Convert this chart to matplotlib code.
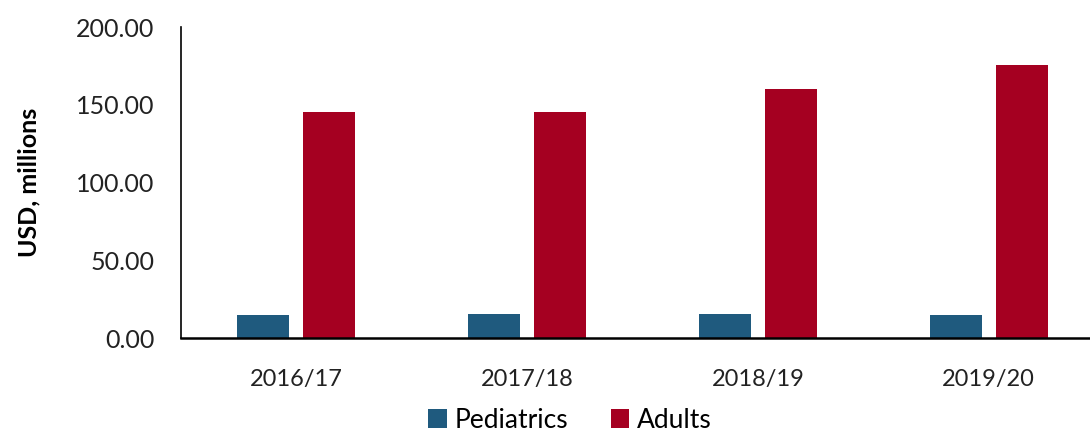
import matplotlib
matplotlib.use('Agg')
import matplotlib.pyplot as plt
import numpy as np

years = ['2016/17', '2017/18', '2018/19', '2019/20']
pediatrics = [14.8, 15.5, 15.2, 15.0]
adults = [145.3, 145.2, 160.2, 175.3]

plt.rcParams['font.family'] = ['Lato', 'DejaVu Sans']

fig = plt.figure(figsize=(10.9, 4.37), dpi=100)
# the x range runs past the right edge of the figure, as in the original
ax = fig.add_axes([0.166, 0.2265, 0.847, 0.7115])

x = np.arange(len(years))
w = 0.225
off = 0.143
ax.bar(x - off, pediatrics, w, color='#1F5A7E', label='Pediatrics')
ax.bar(x + off, adults, w, color='#A50021', label='Adults')

ax.set_xlim(-0.5, 3.5)
ax.set_ylim(0, 200)
ax.set_yticks([0, 50, 100, 150, 200])
ax.set_yticklabels(['%.2f' % v for v in [0, 50, 100, 150, 200]])
ax.set_xticks(x)
ax.set_xticklabels(years)
ax.tick_params(axis='both', length=0, colors='#222222')
ax.tick_params(axis='y', pad=19, labelsize=18)
ax.tick_params(axis='x', pad=22, labelsize=17)

for s in ['top', 'right']:
    ax.spines[s].set_visible(False)
ax.spines['left'].set_linewidth(1.2)
ax.spines['bottom'].set_linewidth(1.8)

ax.set_ylabel('USD, millions', fontsize=18, fontweight='bold')
ax.yaxis.set_label_coords(-0.152, 0.5)

fig.legend(loc='lower center', bbox_to_anchor=(0.523, -0.045), ncol=2, frameon=False,
           fontsize=19, handlelength=0.7, handleheight=0.7, columnspacing=1.6, handletextpad=0.3)

fig.savefig('out.png', dpi=100)
